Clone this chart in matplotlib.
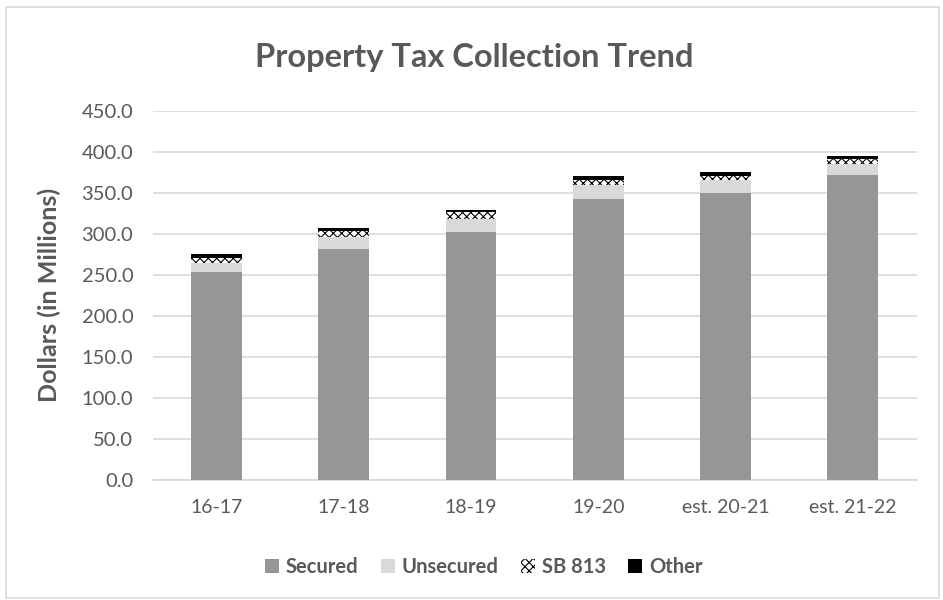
import matplotlib.pyplot as plt
from matplotlib.patches import Rectangle

years = ["16-17", "17-18", "18-19", "19-20", "est. 20-21", "est. 21-22"]
secured = [253.0, 282.0, 302.0, 343.0, 350.0, 372.0]
unsecured = [12.0, 13.5, 16.5, 16.0, 15.0, 13.5]
sb813 = [5.5, 8.5, 7.5, 6.0, 6.0, 6.0]
other = [5.0, 2.5, 3.5, 5.0, 4.0, 3.7]

txt = "#595959"
plt.rcParams['font.family'] = ['Lato', 'DejaVu Sans']
plt.rcParams['hatch.linewidth'] = 0.8

fig = plt.figure(figsize=(9.43, 6.0), dpi=100)
ax = fig.add_axes([0.162, 0.2, 0.81, 0.6155])

# outer chart frame
fig.patches.append(Rectangle((0.006, 0.003), 0.99, 0.985, transform=fig.transFigure,
                             fill=False, edgecolor="#d9d9d9", linewidth=1.2))

x = list(range(len(years)))
w = 0.4
b2 = [s + u for s, u in zip(secured, unsecured)]
b3 = [a + b for a, b in zip(b2, sb813)]

ax.bar(x, secured, w, color="#969696", label="Secured", zorder=3)
ax.bar(x, unsecured, w, bottom=secured, color="#d9d9d9", label="Unsecured", zorder=3)
ax.bar(x, sb813, w, bottom=b2, color="white", edgecolor="black", hatch="xxxx",
       linewidth=0, label="SB 813", zorder=3)
ax.bar(x, other, w, bottom=b3, color="black", label="Other", zorder=3)

ax.set_xlim(-0.5, len(years) - 0.5)
ax.set_ylim(0, 450)
ax.set_yticks(range(0, 451, 50))
ax.set_yticklabels([f"{v:.1f}" for v in range(0, 451, 50)])
ax.set_xticks(x)
ax.set_xticklabels(years)
ax.yaxis.grid(True, color="#d9d9d9", linewidth=1.2, zorder=0)
ax.set_axisbelow(True)
for s in ["top", "right", "left"]:
    ax.spines[s].set_visible(False)
ax.spines["bottom"].set_color("#d9d9d9")
ax.spines["bottom"].set_linewidth(1.2)
ax.tick_params(axis="both", length=0, colors=txt)
ax.tick_params(axis="y", labelsize=14.5, pad=14)
ax.tick_params(axis="x", labelsize=14, pad=14)

ax.set_ylabel("Dollars (in Millions)", fontsize=18, fontweight="bold", color=txt)
ax.yaxis.set_label_coords(-0.12, 0.5)
fig.text(0.503, 0.905, "Property Tax Collection Trend", ha="center", va="center",
         fontsize=23.5, fontweight="bold", color=txt)

leg = fig.legend(loc="center", bbox_to_anchor=(0.513, 0.055), ncol=4, frameon=False,
                 prop={"size": 14.5, "weight": "bold"}, handlelength=0.7, handleheight=0.7,
                 handletextpad=0.35, columnspacing=1.1)
for t in leg.get_texts():
    t.set_color(txt)

fig.savefig("out.png", dpi=100)
